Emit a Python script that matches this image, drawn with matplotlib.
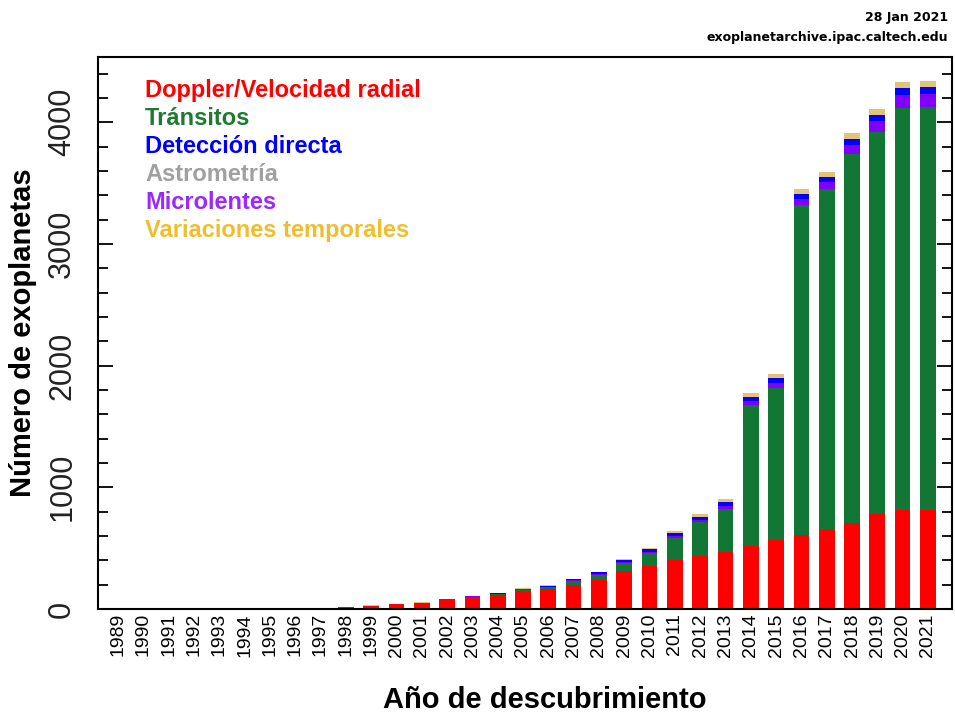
import numpy as np
from matplotlib import pyplot as plt
from matplotlib.ticker import MultipleLocator

# Exoplanetas confirmados acumulados por año y método de detección
anios = np.arange(1989, 2022)

doppler = [1, 1, 1, 1, 1, 1, 2, 8, 9, 14, 25, 39, 52, 80, 100, 118, 148, 167, 197,
           240, 312, 353, 402, 435, 468, 517, 567, 608, 660, 707, 780, 813, 815]
transitos = [0, 0, 0, 0, 0, 0, 0, 0, 0, 0, 1, 1, 1, 1, 2, 5, 9, 12, 33,
             41, 66, 107, 181, 280, 354, 1159, 1249, 2710, 2791, 3032, 3140, 3304, 3310]
astrometria = [0] * 24 + [1] * 9
microlentes = [0, 0, 0, 0, 0, 0, 0, 0, 0, 0, 0, 0, 0, 0, 1, 2, 4, 5, 6,
               8, 9, 12, 16, 20, 25, 30, 38, 47, 55, 75, 90, 107, 107]
imagen = [0, 0, 0, 0, 0, 0, 0, 0, 0, 0, 0, 0, 0, 0, 0, 3, 5, 6, 7,
          12, 14, 17, 22, 25, 32, 38, 42, 44, 46, 48, 50, 56, 57]
temporales = [0, 0, 0, 2, 2, 3, 3, 3, 3, 3, 3, 3, 3, 3, 4, 4, 4, 4, 5,
              6, 7, 11, 18, 20, 25, 33, 35, 38, 41, 45, 47, 49, 50]

etiquetas = ["Doppler/Velocidad radial", "Tránsitos", "Detección directa",
             "Astrometría", "Microlentes", "Variaciones temporales"]
colores_texto = ["#FF0000", "#1E7A30", "#0000FF", "#A0A0A0", "#9A28FF", "#F0BE2C"]

# orden de apilado: rojo, verde, gris, violeta, azul, ocre
series = [doppler, transitos, astrometria, microlentes, imagen, temporales]
colores_barras = ["#FF0000", "#127634", "#A0A0A0", "#8000FF", "#0000FF", "#E3C27A"]

fig = plt.figure(figsize=(9.55, 7.13), dpi=100)
ax = fig.add_axes([98 / 955, 1 - 609 / 713, (952 - 98) / 955, (609 - 57) / 713])

base = np.zeros(len(anios))
for valores, color in zip(series, colores_barras):
    valores = np.array(valores, dtype=float)
    ax.bar(anios, valores, bottom=base, width=0.62, color=color, linewidth=0)
    base += valores

ax.set_xlim(1988.21, 2021.95)
ax.set_ylim(0, 4536)

ax.set_xticks(anios)
ax.set_xticklabels([str(a) for a in anios], rotation=90, va="top", ha="center",
                   family="Liberation Sans", fontsize=14)
ax.tick_params(axis="x", length=0, pad=3)

ax.yaxis.set_major_locator(MultipleLocator(1000))
ax.yaxis.set_minor_locator(MultipleLocator(200))
ax.tick_params(axis="y", which="both", direction="in", left=True, right=True,
               width=1.3, color="black")
ax.tick_params(axis="y", which="major", length=11, pad=15)
ax.tick_params(axis="y", which="minor", length=7)
for t in ax.get_yticklabels():
    t.set_rotation(90)
    t.set_va("center")
    t.set_family("Liberation Sans")
    t.set_color("#222222")
    t.set_fontsize(22)

for s in ax.spines.values():
    s.set_linewidth(1.5)

ax.set_ylabel("Número de exoplanetas", family="Liberation Sans", fontsize=21,
              fontweight="bold")
ax.yaxis.set_label_coords(-0.071, 0.5)
fig.text(545 / 955, 1 - 700 / 713, "Año de descubrimiento", ha="center",
         va="center", family="Liberation Sans", fontsize=21, fontweight="bold")

for i, (texto, color) in enumerate(zip(etiquetas, colores_texto)):
    ax.text(0.055, 0.940 - i * 0.0507, texto, color=color, transform=ax.transAxes,
            ha="left", va="center", family="Liberation Sans", fontsize=17,
            fontweight="bold")

fig.text(0.993, 1 - 18 / 713, "28 Jan 2021", ha="right", va="center",
         family="DejaVu Sans", fontsize=9, fontweight="bold")
fig.text(0.993, 1 - 37 / 713, "exoplanetarchive.ipac.caltech.edu", ha="right",
         va="center", family="DejaVu Sans", fontsize=9, fontweight="bold")

fig.savefig("out.png", dpi=100)
